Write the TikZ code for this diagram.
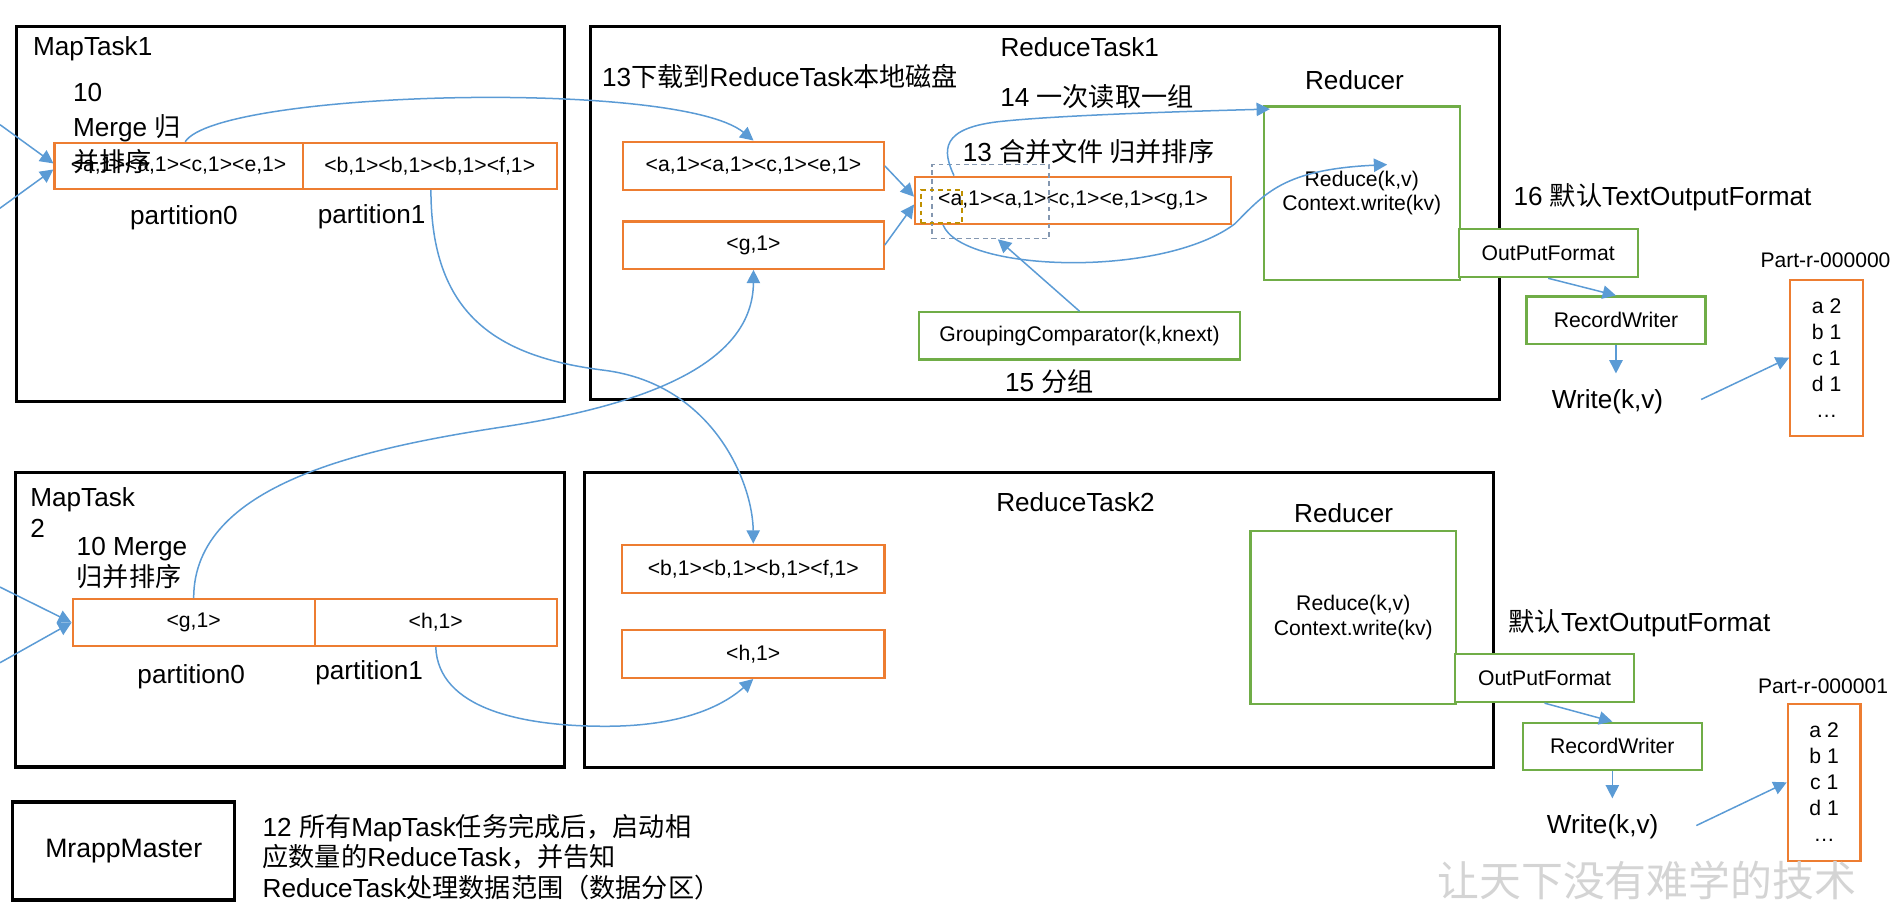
\documentclass[tikz,border=0pt]{standalone}
\usepackage{fontspec}
\setmainfont{Liberation Sans}
\newfontfamily\zhfont{Noto Sans CJK SC}
\newcommand{\zh}[1]{{\zhfont #1}}
\usetikzlibrary{arrows.meta,calc}
\definecolor{ob}{HTML}{ED7D31}
\definecolor{gb}{HTML}{70AD47}
\definecolor{bl}{HTML}{5B9BD5}
\definecolor{gd}{HTML}{8497B0}
\definecolor{yd}{HTML}{BF9000}
\definecolor{wm}{HTML}{D4D4D4}
\begin{document}
\begin{tikzpicture}[x=0.5pt,y=-0.5pt,
  container/.style={draw=black, line width=1.3pt, inner sep=0},
  obox/.style={draw=ob, line width=0.9pt, inner sep=0, fill=white, align=center, font=\fontsize{8.75}{10.75}\selectfont},
  gbox/.style={draw=gb, line width=0.9pt, inner sep=0, fill=white, align=center, font=\fontsize{8.75}{10}\selectfont},
  lbl/.style={inner sep=0, font=\fontsize{10.8}{13}\selectfont},
  small/.style={inner sep=0, font=\fontsize{8.7}{10}\selectfont},
  conn/.style={draw=bl, line width=0.62pt, -{Triangle[length=5.5pt,width=5.5pt]}},
  dbox/.style={draw=#1, line width=0.7pt, dash pattern=on 2pt off 1.5pt, inner sep=0},
  wnode/.style={inner sep=6.5pt, font=\fontsize{10.8}{13}\selectfont}]
\useasboundingbox (0,0) rectangle (1568,748);

% containers
\node[container, minimum width=226.25pt, minimum height=154.75pt] (mt1) at (239.75,176.75) {};
\node[container, minimum width=375.5pt, minimum height=154pt] (rt1) at (863.5,176) {};
\node[container, minimum width=226.7pt, minimum height=121.8pt] (mt2) at (239.3,511.8) {};
\node[container, minimum width=375.5pt, minimum height=122pt] (rt2) at (858.5,512) {};
\node[container, minimum width=91.8pt, minimum height=40.5pt, font=\fontsize{11}{13}\selectfont] (mm) at (102.2,703) {MrappMaster};

% MapTask1
\node[lbl, anchor=west] (mt1t) at (27,40) {MapTask1};
\node[obox, minimum width=102.5pt, minimum height=19pt] (p0a) at (147.5,137) {<a,1><a,1><c,1><e,1>};
\node[obox, minimum width=105pt, minimum height=19pt] (p1a) at (355,137) {<b,1><b,1><b,1><f,1>};
\node[lbl, anchor=west, align=left, font=\fontsize{10.8}{14.5}\selectfont] (m1) at (60,106) {10\\Merge \zh{归}\\\zh{并排序}};
\node[lbl] (pt0) at (152,180) {partition0};
\node[lbl] (pt1) at (307,179) {partition1};

% MapTask2
\node[lbl, anchor=west, align=left, font=\fontsize{10.8}{12.8}\selectfont] (mt2t) at (24.7,423.3) {MapTask\\2};
\node[lbl, anchor=west, align=left, font=\fontsize{10.8}{12.8}\selectfont] (m2) at (63,464.75) {10 Merge\\\zh{归并排序}};
\node[obox, minimum width=100pt, minimum height=19.35pt] (g2) at (160,514.35) {<g,1>};
\node[obox, minimum width=100pt, minimum height=19.35pt] (h2) at (360,514.35) {<h,1>};
\node[lbl] (pt0b) at (158,559) {partition0};
\node[lbl] (pt1b) at (305,556) {partition1};

% ReduceTask1
\node[lbl] (rt1t) at (892,38.6) {ReduceTask1};
\node[lbl, anchor=west] (dl) at (497,63) {13\zh{下载到}ReduceTask\zh{本地磁盘}};
\node[lbl, anchor=west] (l14) at (826,80) {14 \zh{一次读取一组}};
\node[lbl, anchor=west] (l13) at (795,125) {13 \zh{合并文件 归并排序}};
\node[obox, minimum width=107.5pt, minimum height=20pt] (rb1) at (622.5,137) {<a,1><a,1><c,1><e,1>};
\node[obox, minimum width=107.5pt, minimum height=19.5pt] (rg) at (622.5,202.5) {<g,1>};
\node[obox, minimum width=130.5pt, minimum height=19.5pt] (mg) at (886.5,165.5) {<a,1><a,1><c,1><e,1><g,1>};
\node[dbox=gd, minimum width=48.35pt, minimum height=30.5pt] (gray) at (818.35,166.5) {};
\node[dbox=yd, minimum width=17pt, minimum height=13.5pt] (yel) at (778,170.5) {};
\node[gbox, minimum width=132.8pt, minimum height=19.5pt] (gc) at (891.8,277.5) {GroupingComparator(k,knext)};
\node[lbl] (l15) at (867,315) {15 \zh{分组}};
\node[lbl] (red1t) at (1119,66) {Reducer};
\node[gbox, minimum width=81pt, minimum height=71.5pt] (red1) at (1125,159.5) {Reduce(k,v)\\Context.write(kv)};
\node[lbl, anchor=west] (l16) at (1250,162.6) {16 \zh{默认}TextOutputFormat};
\node[gbox, minimum width=74pt, minimum height=20pt] (opf1) at (1279,209) {OutPutFormat};
\node[gbox, minimum width=74pt, minimum height=19.5pt] (rw1) at (1335,264.5) {RecordWriter};
\node[wnode] (w1) at (1328,332) {Write(k,v)};
\node[small, anchor=west] (pr1) at (1454,215) {Part-r-000000};
\node[obox, minimum width=30pt, minimum height=64.5pt] (f1) at (1509,295.5) {a 2\\b 1\\c 1\\d 1\\…};

% ReduceTask2
\node[lbl] (rt2t) at (888.5,414.6) {ReduceTask2};
\node[obox, minimum width=108.35pt, minimum height=20pt] (rb2) at (622.3,470) {<b,1><b,1><b,1><f,1>};
\node[obox, minimum width=108.35pt, minimum height=19.75pt] (rh2) at (622.3,540.3) {<h,1>};
\node[lbl] (red2t) at (1110,424) {Reducer};
\node[gbox, minimum width=85pt, minimum height=71.45pt] (red2) at (1118,510.2) {Reduce(k,v)\\Context.write(kv)};
\node[lbl, anchor=west] (l16b) at (1246,515) {\zh{默认}TextOutputFormat};
\node[gbox, minimum width=74pt, minimum height=20pt] (opf2) at (1276,560) {OutPutFormat};
\node[gbox, minimum width=74pt, minimum height=19.5pt] (rw2) at (1332,616.5) {RecordWriter};
\node[wnode] (w2) at (1324,683) {Write(k,v)};
\node[small, anchor=west] (pr2) at (1452,567) {Part-r-000001};
\node[obox, minimum width=30pt, minimum height=64.75pt] (f2) at (1507,646.3) {a 2\\b 1\\c 1\\d 1\\…};

% note
\node[lbl, anchor=west, align=left, font=\fontsize{10.8}{12.5}\selectfont] (ms) at (216.6,708) {12 \zh{所有}MapTask\zh{任务完成后，启动相}\\\zh{应数量的}ReduceTask\zh{，并告知}\\ReduceTask\zh{处理数据范围（数据分区）}};
\node[inner sep=0, text=wm, font=\zhfont\fontsize{17.3}{20}\selectfont] (wmk) at (1360.5,727) {让天下没有难学的技术};

% connectors
\coordinate (in1a) at (0,103);
\coordinate (in1b) at (0,172);
\coordinate (in2a) at (0,485);
\coordinate (in2b) at (0,547.5);
\draw[conn] (in1a) -- ($(p0a.west)+(0,-2)$);
\draw[conn] (in1b) -- ($(p0a.west)+(0,3)$);
\draw[conn] (in2a) -- (g2.west);
\draw[conn] (in2b) -- (g2.west);
\draw[conn] ($(p0a.north)+(5.5,0)$) .. controls (180,75) and (560,65) .. (rb1.north);
\draw[conn] ($(p1a.south)+(1,0)$) .. controls (356,260) and (410,295) .. (500,306) .. controls (590,318) and (622,400) .. (rb2.north);
\draw[conn] (g2.north) .. controls (160,400) and (300,370) .. (420,352) .. controls (560,330) and (622,290) .. (rg.south);
\draw[conn] (h2.south) .. controls (362,585) and (430,600) .. (500,600) .. controls (560,600) and (595,585) .. (rh2.south);
\draw[conn] (rb1.east) -- ($(mg.west)+(0,-3)$);
\draw[conn] (rg.east) -- ($(mg.west)+(0,3.5)$);
\draw[conn] ($(mg.north west)+(33,0)$) .. controls (779,125) and (775,105) .. (830,100) .. controls (880,95) and (980,92) .. ($(red1.north west)+(6,3)$);
\draw[conn] ($(mg.south west)+(24,0)$) .. controls (795,225) and (960,230) .. (1020,185) .. controls (1045,160) and (1060,140) .. ($(red1.center)+(21,-23.5)$);
\draw[conn] (gc.north) -- ($(gray.south)+(6,0)$);
\draw[conn] (opf1.south) -- (rw1.north);
\draw[conn] (rw1.south) -- (rw1.south |- w1.north);
\draw[conn] ($(w1.east)+(18,-2)$) -- (f1.west);
\draw[conn] (opf2.south) -- (rw2.north);
\draw[conn] (rw2.south) -- (rw2.south |- w2.north);
\draw[conn] ($(w2.east)+(18,-1)$) -- (f2.west);
\end{tikzpicture}
\end{document}
